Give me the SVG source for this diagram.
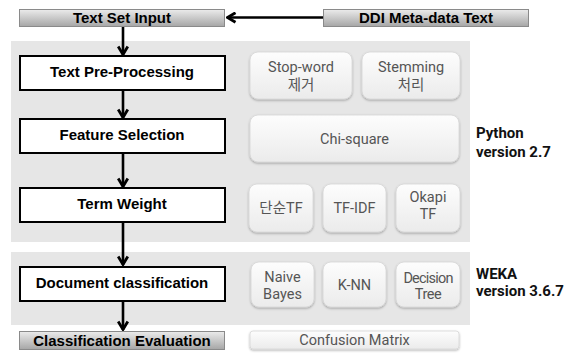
<svg xmlns="http://www.w3.org/2000/svg" width="579" height="353" viewBox="0 0 579 353">
  <defs>
    <linearGradient id="hdr" x1="0" y1="0" x2="0" y2="1">
      <stop offset="0" stop-color="#ebebeb"/>
      <stop offset="1" stop-color="#a6a6a6"/>
    </linearGradient>
    <linearGradient id="pill" x1="0" y1="0" x2="0" y2="1">
      <stop offset="0" stop-color="#fdfdfd"/>
      <stop offset="1" stop-color="#ebebeb"/>
    </linearGradient>
    <filter id="shadow" x="-10%" y="-10%" width="120%" height="130%">
      <feDropShadow dx="0" dy="1.2" stdDeviation="0.9" flood-color="#000" flood-opacity="0.3"/>
    </filter>
    <marker id="chev" viewBox="0 0 12 12" refX="10.5" refY="6" markerWidth="12" markerHeight="12" orient="auto" markerUnits="userSpaceOnUse">
      <path d="M2,1.2 L10,6 L2,10.8" fill="none" stroke="#000" stroke-width="2.8"/>
    </marker>
  </defs>
  <style>
    .panel { fill: #e6e6e6; }
    .hdr { fill: url(#hdr); stroke: #8a8a8a; stroke-width: 1; }
    .step { fill: #fff; stroke: #000; stroke-width: 2; }
    .pill { fill: url(#pill); stroke: #d6d6d6; stroke-width: 0.8; filter: url(#shadow); }
    .lbl { font-family: "Liberation Sans", Arial, sans-serif; font-weight: bold; font-size: 15px; fill: #000; text-anchor: middle; }
    .opt { font-family: Roboto, "Noto Sans CJK KR", sans-serif; font-size: 14.5px; fill: #555; text-anchor: middle; }
    .side { font-family: Roboto, "Noto Sans CJK KR", sans-serif; font-weight: bold; font-size: 15px; fill: #111; }
    .conn { stroke: #000; stroke-width: 2.6; fill: none; marker-end: url(#chev); }
  </style>

  <!-- background bands -->
  <rect class="panel" x="11" y="41" width="459" height="201"/>
  <rect class="panel" x="11" y="252" width="459" height="73"/>

  <!-- connectors -->
  <g id="connectors">
    <line class="conn" x1="323" y1="17.5" x2="227" y2="17.5"/>
    <line class="conn" x1="123" y1="26" x2="123" y2="55"/>
    <line class="conn" x1="123" y1="90" x2="123" y2="118"/>
    <line class="conn" x1="123" y1="153" x2="123" y2="187"/>
    <line class="conn" x1="123" y1="222" x2="123" y2="265"/>
    <line class="conn" x1="123" y1="301" x2="123" y2="330"/>
  </g>

  <!-- pipeline steps -->
  <g id="text-set-input">
    <rect class="hdr" x="19.5" y="9.5" width="205" height="17"/>
    <text class="lbl" x="122" y="23">Text Set Input</text>
  </g>
  <g id="ddi-metadata">
    <rect class="hdr" x="323.5" y="9.5" width="205" height="17"/>
    <text class="lbl" x="426" y="23">DDI Meta-data Text</text>
  </g>
  <g id="pre-processing">
    <rect class="step" x="20" y="56" width="205" height="34"/>
    <text class="lbl" x="122" y="77">Text Pre-Processing</text>
  </g>
  <g id="feature-selection">
    <rect class="step" x="20" y="119" width="205" height="34"/>
    <text class="lbl" x="122" y="140">Feature Selection</text>
  </g>
  <g id="term-weight">
    <rect class="step" x="20" y="188" width="205" height="34"/>
    <text class="lbl" x="122" y="209">Term Weight</text>
  </g>
  <g id="doc-classification">
    <rect class="step" x="20" y="267" width="205" height="34"/>
    <text class="lbl" x="122" y="288">Document classification</text>
  </g>
  <g id="evaluation">
    <rect class="hdr" x="19.5" y="331.5" width="205" height="18"/>
    <text class="lbl" x="122" y="346">Classification Evaluation</text>
  </g>

  <!-- method options -->
  <g id="opt-stopword">
    <rect class="pill" x="250" y="52" width="102" height="47" rx="8"/>
    <text class="opt" x="301" y="71.5">Stop-word</text>
    <text class="opt" x="301" y="89.5">제거</text>
  </g>
  <g id="opt-stemming">
    <rect class="pill" x="362" y="52" width="98" height="47" rx="8"/>
    <text class="opt" x="411" y="71.5">Stemming</text>
    <text class="opt" x="411" y="89.5">처리</text>
  </g>
  <g id="opt-chisquare">
    <rect class="pill" x="250" y="115" width="209" height="47" rx="8"/>
    <text class="opt" x="354.5" y="144">Chi-square</text>
  </g>
  <g id="opt-simple-tf">
    <rect class="pill" x="249" y="184" width="64" height="48" rx="8"/>
    <text class="opt" x="281" y="213">단순TF</text>
  </g>
  <g id="opt-tfidf">
    <rect class="pill" x="323" y="184" width="63" height="48" rx="8"/>
    <text class="opt" x="354.5" y="213">TF-IDF</text>
  </g>
  <g id="opt-okapi">
    <rect class="pill" x="396" y="184" width="64" height="48" rx="8"/>
    <text class="opt" x="428" y="202">Okapi</text>
    <text class="opt" x="428" y="218.5">TF</text>
  </g>
  <g id="opt-naive-bayes">
    <rect class="pill" x="251" y="262" width="63" height="45" rx="8"/>
    <text class="opt" x="282.5" y="282">Naive</text>
    <text class="opt" x="282.5" y="298.5">Bayes</text>
  </g>
  <g id="opt-knn">
    <rect class="pill" x="323" y="262" width="63" height="45" rx="8"/>
    <text class="opt" x="354.5" y="290">K-NN</text>
  </g>
  <g id="opt-decision-tree">
    <rect class="pill" x="396" y="262" width="64" height="45" rx="8"/>
    <text class="opt" x="428" y="282.5" font-size="13.5" letter-spacing="-0.8">Decision</text>
    <text class="opt" x="428" y="299" font-size="13.5" letter-spacing="-0.5">Tree</text>
  </g>
  <g id="opt-confusion">
    <rect class="pill" x="250" y="331" width="209" height="18" rx="3"/>
    <text class="opt" x="354.5" y="345">Confusion Matrix</text>
  </g>

  <!-- tool labels -->
  <g id="python-label">
    <text class="side" x="476" y="138">Python</text>
    <text class="side" x="476" y="157">version  2.7</text>
  </g>
  <g id="weka-label">
    <text class="side" x="476" y="279">WEKA</text>
    <text class="side" x="476" y="296">version  3.6.7</text>
  </g>
</svg>
